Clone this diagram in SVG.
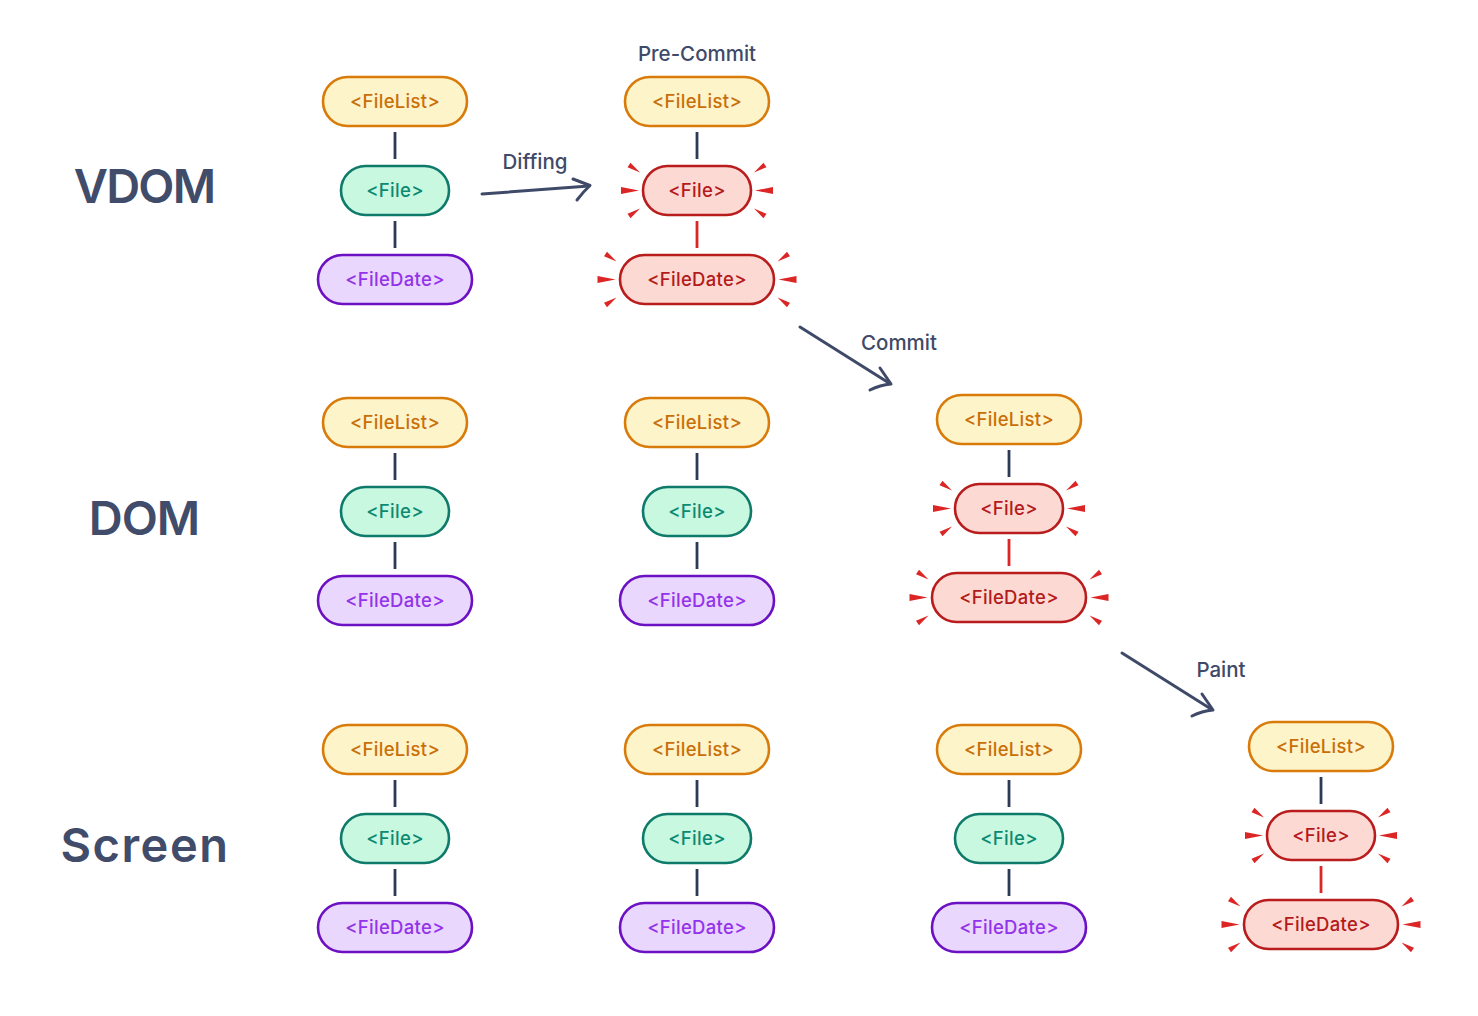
<svg xmlns="http://www.w3.org/2000/svg" xmlns:xlink="http://www.w3.org/1999/xlink" width="1478" height="1016" viewBox="0 0 1478 1016">
<style>
.n rect{stroke-width:2.6}
.n text{font-family:Inter,"Noto Sans","Liberation Sans",sans-serif;font-size:18.5px;font-weight:500;text-anchor:middle;letter-spacing:0.3px}
.fl rect{fill:#fef4c9;stroke:#d97b0a}
.fl text{fill:#c96f08}
.fi rect{fill:#c9f8e1;stroke:#0e7a6a}
.fi text{fill:#0c8a70}
.fd rect{fill:#ead7fe;stroke:#6b10c2}
.fd text{fill:#9333ea}
.rd rect{fill:#fdd9d3;stroke:#b91c1c}
.rd text{fill:#b31b1b}
.burst{fill:#dc2626}
.cn line{stroke:#2d3a55;stroke-width:2.8}
.cn line.r{stroke:#dc2626}
.ar path{fill:none;stroke:#3f4a68;stroke-width:3;stroke-linecap:round;stroke-linejoin:round}
.lbl{font-family:Inter,"Noto Sans","Liberation Sans",sans-serif;fill:#3f4a68;font-size:20.5px;font-weight:500;text-anchor:middle}
.big{font-family:Inter,"Noto Sans","Liberation Sans",sans-serif;fill:#414c6b;font-size:47px;font-weight:600;text-anchor:middle}
</style>
<defs>
<g id="burst" class="burst">
<polygon points="4,0 22,-3.5 22,3.5"/>
<polygon points="3,-18 15.5,-23.3 12.5,-27.7"/>
<polygon points="3,18 15.5,23.3 12.5,27.7"/>
</g>
</defs>
<rect width="1478" height="1016" fill="#ffffff"/>

<g id="row-labels">
<text class="big" x="144" y="203" style="letter-spacing:-1.8px">VDOM</text>
<text class="big" x="144" y="535" style="letter-spacing:-1px">DOM</text>
<text class="big" x="145" y="862" style="letter-spacing:1.5px">Screen</text>
</g>

<g id="step-labels">
<text class="lbl" x="697" y="61">Pre-Commit</text>
<text class="lbl" x="535" y="169">Diffing</text>
<text class="lbl" x="899" y="350">Commit</text>
<text class="lbl" x="1221" y="677">Paint</text>
</g>

<g id="connectors" class="cn">
<line x1="395" y1="132" x2="395" y2="159"/><line x1="395" y1="221" x2="395" y2="248"/>
<line x1="697" y1="132" x2="697" y2="159"/><line class="r" x1="697" y1="221" x2="697" y2="248"/>
<line x1="395" y1="453" x2="395" y2="480"/><line x1="395" y1="542" x2="395" y2="569"/>
<line x1="697" y1="453" x2="697" y2="480"/><line x1="697" y1="542" x2="697" y2="569"/>
<line x1="1009" y1="450" x2="1009" y2="477"/><line class="r" x1="1009" y1="539" x2="1009" y2="566"/>
<line x1="395" y1="780" x2="395" y2="807"/><line x1="395" y1="869" x2="395" y2="896"/>
<line x1="697" y1="780" x2="697" y2="807"/><line x1="697" y1="869" x2="697" y2="896"/>
<line x1="1009" y1="780" x2="1009" y2="807"/><line x1="1009" y1="869" x2="1009" y2="896"/>
<line x1="1321" y1="777" x2="1321" y2="804"/><line class="r" x1="1321" y1="866" x2="1321" y2="893"/>
</g>

<g id="arrows" class="ar">
<g id="arrow-diffing"><path d="M482,194 Q536,190 589,186"/><path d="M573,179 L590,185.5 Q583,192 577,200"/></g>
<g id="arrow-commit"><path d="M800,327 L889,383"/><path d="M880,368 L891,384 Q880,385 870,390"/></g>
<g id="arrow-paint"><path d="M1122,653 L1211,709"/><path d="M1202,694 L1213,710 Q1202,711 1192,716"/></g>
</g>

<g id="bursts">
<use href="#burst" transform="translate(751,190.5)"/><use href="#burst" transform="translate(643,190.5) scale(-1,1)"/>
<use href="#burst" transform="translate(774.5,279.5)"/><use href="#burst" transform="translate(619.5,279.5) scale(-1,1)"/>
<use href="#burst" transform="translate(1063,508.5)"/><use href="#burst" transform="translate(955,508.5) scale(-1,1)"/>
<use href="#burst" transform="translate(1086.5,597.5)"/><use href="#burst" transform="translate(931.5,597.5) scale(-1,1)"/>
<use href="#burst" transform="translate(1375,835.5)"/><use href="#burst" transform="translate(1267,835.5) scale(-1,1)"/>
<use href="#burst" transform="translate(1398.5,924.5)"/><use href="#burst" transform="translate(1243.5,924.5) scale(-1,1)"/>
</g>

<g id="vdom-1-filelist" class="n fl"><rect x="323" y="77" width="144" height="49" rx="24.5"/><text x="395" y="108">&lt;FileList&gt;</text></g>
<g id="vdom-1-file" class="n fi"><rect x="341" y="166" width="108" height="49" rx="24.5"/><text x="395" y="197">&lt;File&gt;</text></g>
<g id="vdom-1-filedate" class="n fd"><rect x="318" y="255" width="154" height="49" rx="24.5"/><text x="395" y="286">&lt;FileDate&gt;</text></g>

<g id="vdom-2-filelist" class="n fl"><rect x="625" y="77" width="144" height="49" rx="24.5"/><text x="697" y="108">&lt;FileList&gt;</text></g>
<g id="vdom-2-file" class="n rd"><rect x="643" y="166" width="108" height="49" rx="24.5"/><text x="697" y="197">&lt;File&gt;</text></g>
<g id="vdom-2-filedate" class="n rd"><rect x="620" y="255" width="154" height="49" rx="24.5"/><text x="697" y="286">&lt;FileDate&gt;</text></g>

<g id="dom-1-filelist" class="n fl"><rect x="323" y="398" width="144" height="49" rx="24.5"/><text x="395" y="429">&lt;FileList&gt;</text></g>
<g id="dom-1-file" class="n fi"><rect x="341" y="487" width="108" height="49" rx="24.5"/><text x="395" y="518">&lt;File&gt;</text></g>
<g id="dom-1-filedate" class="n fd"><rect x="318" y="576" width="154" height="49" rx="24.5"/><text x="395" y="607">&lt;FileDate&gt;</text></g>

<g id="dom-2-filelist" class="n fl"><rect x="625" y="398" width="144" height="49" rx="24.5"/><text x="697" y="429">&lt;FileList&gt;</text></g>
<g id="dom-2-file" class="n fi"><rect x="643" y="487" width="108" height="49" rx="24.5"/><text x="697" y="518">&lt;File&gt;</text></g>
<g id="dom-2-filedate" class="n fd"><rect x="620" y="576" width="154" height="49" rx="24.5"/><text x="697" y="607">&lt;FileDate&gt;</text></g>

<g id="dom-3-filelist" class="n fl"><rect x="937" y="395" width="144" height="49" rx="24.5"/><text x="1009" y="426">&lt;FileList&gt;</text></g>
<g id="dom-3-file" class="n rd"><rect x="955" y="484" width="108" height="49" rx="24.5"/><text x="1009" y="515">&lt;File&gt;</text></g>
<g id="dom-3-filedate" class="n rd"><rect x="932" y="573" width="154" height="49" rx="24.5"/><text x="1009" y="604">&lt;FileDate&gt;</text></g>

<g id="screen-1-filelist" class="n fl"><rect x="323" y="725" width="144" height="49" rx="24.5"/><text x="395" y="756">&lt;FileList&gt;</text></g>
<g id="screen-1-file" class="n fi"><rect x="341" y="814" width="108" height="49" rx="24.5"/><text x="395" y="845">&lt;File&gt;</text></g>
<g id="screen-1-filedate" class="n fd"><rect x="318" y="903" width="154" height="49" rx="24.5"/><text x="395" y="934">&lt;FileDate&gt;</text></g>

<g id="screen-2-filelist" class="n fl"><rect x="625" y="725" width="144" height="49" rx="24.5"/><text x="697" y="756">&lt;FileList&gt;</text></g>
<g id="screen-2-file" class="n fi"><rect x="643" y="814" width="108" height="49" rx="24.5"/><text x="697" y="845">&lt;File&gt;</text></g>
<g id="screen-2-filedate" class="n fd"><rect x="620" y="903" width="154" height="49" rx="24.5"/><text x="697" y="934">&lt;FileDate&gt;</text></g>

<g id="screen-3-filelist" class="n fl"><rect x="937" y="725" width="144" height="49" rx="24.5"/><text x="1009" y="756">&lt;FileList&gt;</text></g>
<g id="screen-3-file" class="n fi"><rect x="955" y="814" width="108" height="49" rx="24.5"/><text x="1009" y="845">&lt;File&gt;</text></g>
<g id="screen-3-filedate" class="n fd"><rect x="932" y="903" width="154" height="49" rx="24.5"/><text x="1009" y="934">&lt;FileDate&gt;</text></g>

<g id="screen-4-filelist" class="n fl"><rect x="1249" y="722" width="144" height="49" rx="24.5"/><text x="1321" y="753">&lt;FileList&gt;</text></g>
<g id="screen-4-file" class="n rd"><rect x="1267" y="811" width="108" height="49" rx="24.5"/><text x="1321" y="842">&lt;File&gt;</text></g>
<g id="screen-4-filedate" class="n rd"><rect x="1244" y="900" width="154" height="49" rx="24.5"/><text x="1321" y="931">&lt;FileDate&gt;</text></g>
</svg>
